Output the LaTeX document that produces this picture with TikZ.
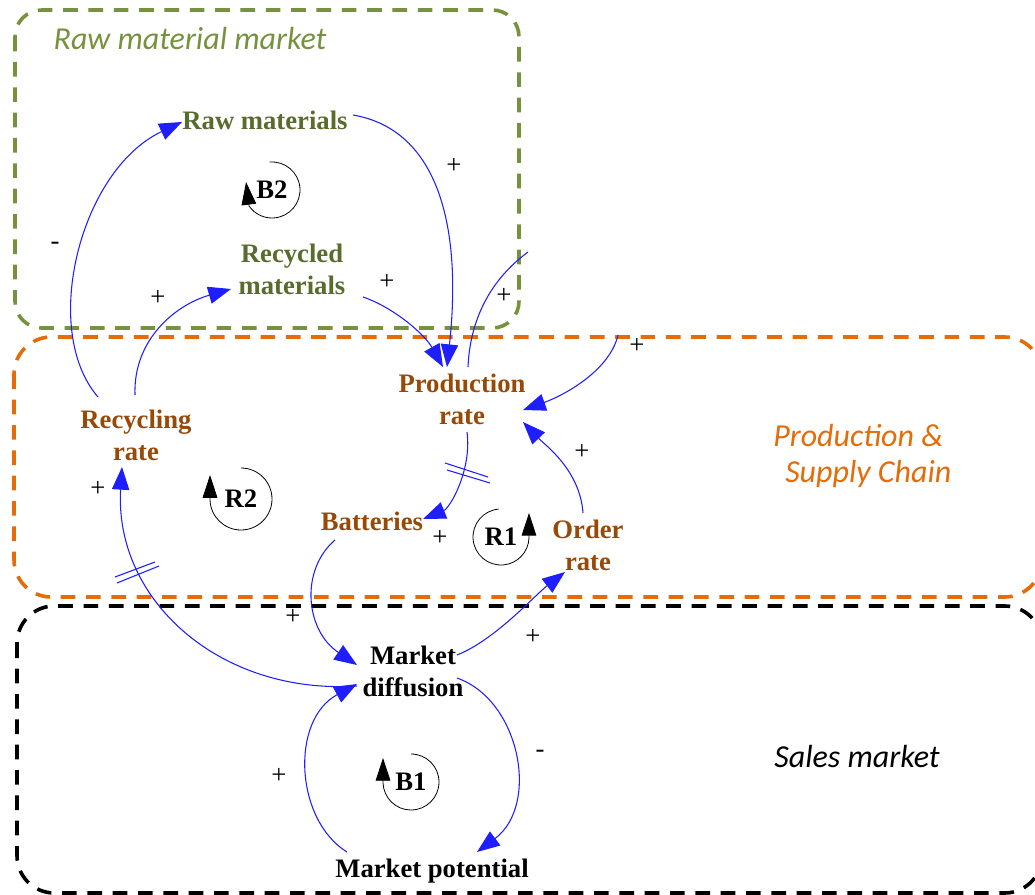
\documentclass[tikz,border=0pt]{standalone}
\usepackage{fontspec}
\setmainfont{Liberation Serif}
\newfontfamily\calfont{Carlito}
\usetikzlibrary{arrows.meta,calc}
\definecolor{boxgreen}{RGB}{118,146,60}
\definecolor{txtgreen}{RGB}{88,108,45}
\definecolor{boxorange}{RGB}{228,108,10}
\definecolor{txtbrown}{RGB}{152,72,7}
\definecolor{linkblue}{RGB}{30,30,255}
\begin{document}
\begin{tikzpicture}[x=0.75pt,y=-0.75pt,
  var/.style={font=\fontsize{20}{24}\selectfont\bfseries, align=center, inner sep=0pt},
  sign/.style={font=\fontsize{20}{24}\selectfont, inner sep=0pt},
  title/.style={font=\calfont\itshape\fontsize{24}{27}\selectfont, inner sep=0pt},
  link/.style={draw=linkblue, line width=0.8pt, -{Triangle[length=17pt,width=13pt]}},
  plainlink/.style={draw=linkblue, line width=0.8pt},
  delaymark/.style={draw=linkblue, line width=0.8pt},
  loopc/.style={draw=black, line width=0.6pt, -{Triangle[length=17pt,width=11pt]}},
  region/.style={line width=2.7pt, dash pattern=on 11pt off 8pt},
]
\clip (0,0) rectangle (1035,895);

% regions
\draw[region, boxgreen, rounded corners=20pt] (15,10) rectangle (519,328);
\draw[region, boxorange, rounded corners=28pt] (14,337) rectangle (1042,597);
\draw[region, black, rounded corners=28pt] (17,606) rectangle (1042,893);

\node[title, boxgreen] (tgreen) at (190,39) {Raw material market};
\node[title, boxorange, anchor=west, align=left] (torange) at (773,456) {Production \&\\\hspace{9pt}Supply Chain};
\node[title, black] (tblack) at (857,757) {Sales market};

% variables
\node[var, txtgreen] (raw) at (265,120) {Raw materials};
\node[var, txtgreen] (recm) at (292,269) {Recycled\\materials};
\node[var, txtbrown] (prod) at (462,399) {Production\\rate};
\node[var, txtbrown] (recy) at (136,435) {Recycling\\rate};
\node[var, txtbrown] (batt) at (372,521) {Batteries};
\node[var, txtbrown] (order) at (588,545) {Order\\rate};
\node[var] (mdiff) at (413,671) {Market\\diffusion};
\node[var] (mpot) at (432,871) {Market potential};

\coordinate (free1) at (528,252);
\coordinate (free2) at (618,335);

% connectors
\draw[link] ($(recy)+(-38,-38)$) .. controls (40,330) and (80,170) .. ($(raw)+(-83,2)$);
\draw[link] ($(recy)+(-1,-40)$) .. controls (133,340) and (175,305) .. ($(recm)+(-61,20)$);
\draw[link] ($(raw)+(88,-5)$) .. controls (440,130) and (462,230) .. ($(prod)+(-15,-32)$);
\draw[link] ($(recm)+(71,28)$) .. controls (395,308) and (425,335) .. ($(prod)+(-19,-32)$);
\draw[plainlink] ($(prod)+(6,-32)$) .. controls (470,320) and (490,280) .. (free1);
\draw[link] (free2) .. controls (610,370) and (565,395) .. ($(prod)+(61,11)$);
\draw[link] ($(order)+(-5,-32)$) .. controls (580,470) and (545,445) .. ($(prod)+(61,23)$);
\draw[link] ($(prod)+(5,33)$) .. controls (472,470) and (450,508) .. ($(batt)+(51,-2)$);
\draw[link] ($(batt)+(-37,19)$) .. controls (300,570) and (305,630) .. ($(mdiff)+(-56,-6)$);
\draw[link] ($(mdiff)+(44,-16)$) .. controls (495,640) and (535,595) .. ($(order)+(-23,27)$);
\draw[link] ($(mdiff)+(-56,15)$) .. controls (220,695) and (114,600) .. ($(recy)+(-14,32)$);
\draw[link] ($(mdiff)+(44,7)$) .. controls (520,700) and (540,805) .. ($(mpot)+(45,-19)$);
\draw[link] ($(mpot)+(-85,-19)$) .. controls (295,820) and (290,720) .. ($(mdiff)+(-56,13)$);

% delay marks
\coordinate (dl1) at (467,473);
\draw[delaymark] ($(dl1)+(-22,-10)$) -- ($(dl1)+(21,4)$);
\draw[delaymark] ($(dl1)+(-20,-3)$) -- ($(dl1)+(23,10)$);
\coordinate (dl2) at (137,572);
\draw[delaymark] ($(dl2)+(-22,5)$) -- ($(dl2)+(18,-10)$);
\draw[delaymark] ($(dl2)+(-20,11)$) -- ($(dl2)+(22,-6)$);

% loop markers
\node[var] (b2) at (272,190) {B2};
\draw[loopc] (b2.center) ++(-95:28) arc[start angle=-95, end angle=145, radius=28] -- ++(-3,-24);
\node[var] (r2) at (241,499) {R2};
\draw[loopc] (r2.center) ++(-90:31) arc[start angle=-90, end angle=178, radius=31] -- ++(0,-25);
\node[var] (r1) at (501,537) {R1};
\draw[loopc] (r1.center) ++(-95:28) arc[start angle=-95, end angle=-358, radius=28] -- ++(0,-25);
\node[var] (b1) at (411,782) {B1};
\draw[loopc] (b1.center) ++(-90:28) arc[start angle=-90, end angle=178, radius=28] -- ++(0,-25);

% polarity signs
\node[sign] (s1) at (55,246) {-};
\node[sign] (s2) at (158,298) {+};
\node[sign] (s3) at (454,166) {+};
\node[sign] (s4) at (387,282) {+};
\node[sign] (s5) at (504,296) {+};
\node[sign] (s6) at (637,346) {+};
\node[sign] (s7) at (582,452) {+};
\node[sign] (s8) at (440,538) {+};
\node[sign] (s9) at (98,489) {+};
\node[sign] (s10) at (293,617) {+};
\node[sign] (s11) at (533,637) {+};
\node[sign] (s12) at (540,754) {-};
\node[sign] (s13) at (279,776) {+};
\end{tikzpicture}
\end{document}
